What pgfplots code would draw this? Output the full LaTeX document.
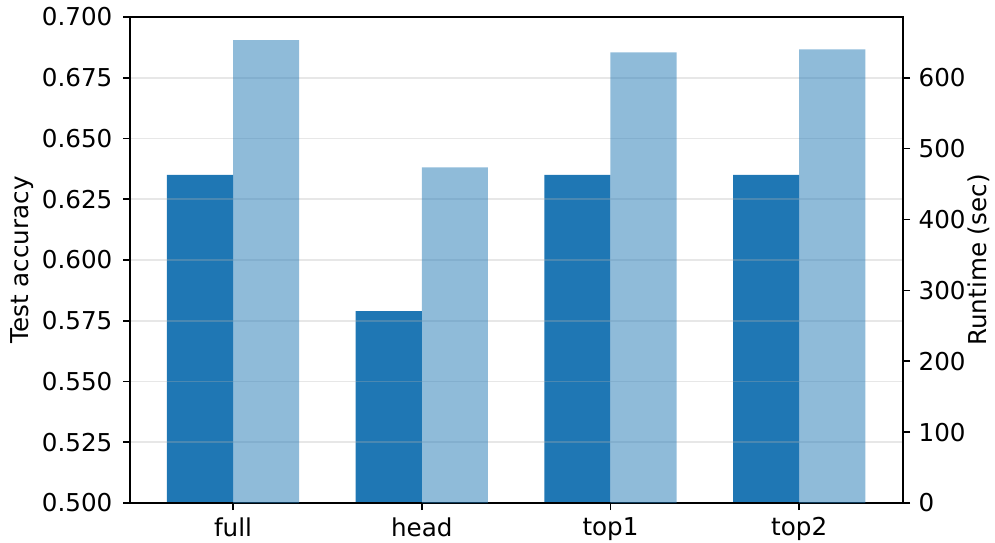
\documentclass[border=0pt]{standalone}
\usepackage{fontspec}
\setmainfont{DejaVu Sans}
\usepackage{pgfplots}
\pgfplotsset{compat=1.18}
\definecolor{c1}{HTML}{1F77B4}
\definecolor{gridc}{HTML}{B0B0B0}
\begin{document}
\fontsize{12.3pt}{14.5pt}\selectfont
\begin{tikzpicture}
\path[use as bounding box] (-65pt,-19.5pt) rectangle (432.5pt,251.5pt);
\begin{axis}[
  scale only axis, width=386.5pt, height=243pt,
  xmin=-0.546, xmax=3.55, ymin=0.5, ymax=0.7,
  xtick={0,1,2,3}, xticklabels={full,head,top1,top2},
  ytick={0.5,0.525,0.55,0.575,0.6,0.625,0.65,0.675,0.7},
  yticklabel style={/pgf/number format/fixed,/pgf/number format/fixed zerofill,/pgf/number format/precision=3, xshift=-1pt},
  xticklabel style={yshift=0.5pt},
  /pgf/number format/assume math mode=true,
  ytick pos=left, xtick pos=bottom,
  tick align=outside, major tick length=3.5pt,
  tick style={black, line width=0.8pt},
  axis line style={line width=0.8pt},
  ymajorgrids, grid style={gridc, opacity=0.3, line width=0.8pt},
  axis on top,
  font=\fontsize{12.3pt}{14.5pt}\selectfont,
  ylabel={Test accuracy},
  ylabel style={at={(axis description cs:-0.1397,0.5)}, anchor=center},
  ybar, bar width=0.35,
]
\addplot[fill=c1, draw=none, bar shift=-0.175] coordinates {(0,0.635)(1,0.579)(2,0.635)(3,0.635)};
\end{axis}
\begin{axis}[
  scale only axis, width=386.5pt, height=243pt,
  xmin=-0.546, xmax=3.55, ymin=0, ymax=685.7,
  axis y line*=right, axis x line=none,
  ytick={0,100,200,300,400,500,600},
  /pgf/number format/assume math mode=true,
  tick align=outside, major tick length=3.5pt,
  tick style={black, line width=0.8pt},
  axis line style={line width=0.8pt},
  font=\fontsize{12.3pt}{14.5pt}\selectfont,
  ylabel={Runtime (sec)},
  ylabel style={at={(axis description cs:1.0985,0.5)}, anchor=center},
  ybar, bar width=0.35,
]
\addplot[fill=c1, fill opacity=0.5, draw=none, bar shift=0.175] coordinates {(0,653)(1,473.5)(2,635.7)(3,639.9)};
\end{axis}
\end{tikzpicture}
\end{document}
